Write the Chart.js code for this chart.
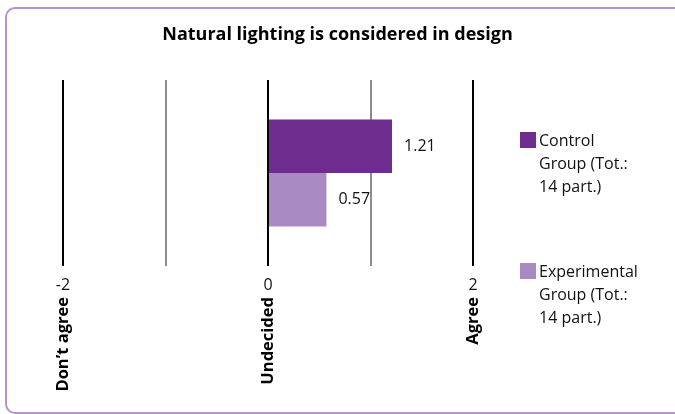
<!DOCTYPE html>
<html lang="en">
<head>
    <meta charset="UTF-8">
    <title>Natural lighting is considered in design</title>
    <style>
        body { margin: 0; width: 675px; height: 414px; overflow: hidden; background: #fff; font-family: "Open Sans", sans-serif; }
        .frame { position: absolute; left: 5px; top: 7px; width: 720px; height: 407px; border: 2px solid #b892cc; border-radius: 10px; box-sizing: border-box; }
        .chart-container { position: absolute; left: 0; top: 0; width: 675px; height: 414px; }
        .legend { position: absolute; left: 520px; font-size: 16px; line-height: 23px; color: #111; }
        .legend .box { position: absolute; left: 0; width: 16px; height: 16px; }
        .legend .txt { position: absolute; left: 19px; white-space: nowrap; }
    </style>
</head>
<body>
    <div class="frame"></div>
    <div class="chart-container">
        <canvas class="likert-chart"></canvas>
    </div>
    <div class="legend-holder"></div>

    <script src="https://cdn.jsdelivr.net/npm/chart.js@4/dist/chart.umd.min.js"></script>
    <script>
        const chartTitle = 'Natural lighting is considered in design';
        const question = ['Natural lighting'];
        const groupNames = [['Control', 'Group (Tot.:', '14 part.)'], ['Experimental', 'Group (Tot.:', '14 part.)']];
        const groupColors = ['#6d2c8e', '#a98ac3'];
        const controlValues = [1.21];
        const experimentalValues = [0.57];
        const scaleValues = [-2, 0, 2];
        const scaleWords = ["Don\u2019t agree", 'Undecided', 'Agree'];

        const fontFamily = '"Open Sans", sans-serif';

        // bold answer words under the numbers, written bottom to top
        const scaleWordsPlugin = {
            id: 'scaleWords',
            afterDraw(chart) {
                const x = chart.scales.x;
                const c = chart.ctx;
                c.save();
                c.font = 'bold 16.5px ' + fontFamily;
                c.fillStyle = '#000';
                c.textAlign = 'right';
                c.textBaseline = 'middle';
                scaleValues.forEach((v, i) => {
                    c.save();
                    c.translate(x.getPixelForValue(v), x.top + 31);
                    c.rotate(-Math.PI / 2);
                    c.fillText(scaleWords[i], 0, 0);
                    c.restore();
                });
                c.restore();
            }
        };

        // value written just past the end of each bar
        const valueLabelPlugin = {
            id: 'valueLabels',
            afterDatasetsDraw(chart) {
                const c = chart.ctx;
                c.save();
                c.font = '16px ' + fontFamily;
                c.fillStyle = '#111';
                c.textAlign = 'left';
                c.textBaseline = 'middle';
                chart.data.datasets.forEach((ds, di) => {
                    chart.getDatasetMeta(di).data.forEach((bar, j) => {
                        c.fillText(ds.data[j].toFixed(2), bar.x + 12, bar.y);
                    });
                });
                c.restore();
            }
        };

        const ctx = document.querySelector('.likert-chart').getContext('2d');
        const chart = new Chart(ctx, {
            type: 'bar',
            data: {
                labels: question,
                datasets: [{
                    label: groupNames[0].join(' '),
                    data: controlValues,
                    backgroundColor: groupColors[0]
                }, {
                    label: groupNames[1].join(' '),
                    data: experimentalValues,
                    backgroundColor: groupColors[1]
                }]
            },
            options: {
                indexAxis: 'y',
                responsive: true,
                maintainAspectRatio: false,
                animation: false,
                layout: { padding: 0 },
                datasets: {
                    bar: { categoryPercentage: 0.575, barPercentage: 1 }
                },
                plugins: {
                    legend: { display: false },
                    tooltip: { enabled: false },
                    title: {
                        display: true,
                        text: chartTitle,
                        color: '#000',
                        font: { family: fontFamily, size: 18, weight: 'bold' },
                        padding: { top: 24, bottom: 34.4 }
                    }
                },
                scales: {
                    x: {
                        min: -2,
                        max: 2,
                        ticks: {
                            stepSize: 1,
                            autoSkip: false,
                            maxRotation: 0,
                            padding: 10,
                            color: '#111',
                            font: { family: fontFamily, size: 16 },
                            callback: v => (v % 2 === 0 ? v : '')
                        },
                        grid: {
                            drawTicks: false,
                            lineWidth: 2,
                            color: c => (c.tick && c.tick.value % 2 === 0 ? '#000' : '#8c8c8c')
                        },
                        border: { display: false },
                        afterFit(s) { s.height = 148; }
                    },
                    y: {
                        ticks: { display: false },
                        grid: { display: false },
                        border: { display: false },
                        afterFit(s) { s.width = 63; }
                    },
                    legendSpace: {
                        type: 'linear',
                        position: 'right',
                        ticks: { display: false },
                        grid: { display: false },
                        border: { display: false },
                        afterFit(s) { s.width = 202; }
                    }
                }
            },
            plugins: [scaleWordsPlugin, valueLabelPlugin]
        });

        // legend with wrapped group names
        const legendTops = [128.5, 259.5];
        const holder = document.querySelector('.legend-holder');
        groupNames.forEach((lines, i) => {
            const item = document.createElement('div');
            item.className = 'legend';
            item.style.top = legendTops[i] + 'px';
            item.innerHTML = '<div class="box" style="top:3px;background:' + groupColors[i] + '"></div>' +
                '<div class="txt">' + lines.join('<br>') + '</div>';
            holder.appendChild(item);
        });
    </script>
</body>
</html>
